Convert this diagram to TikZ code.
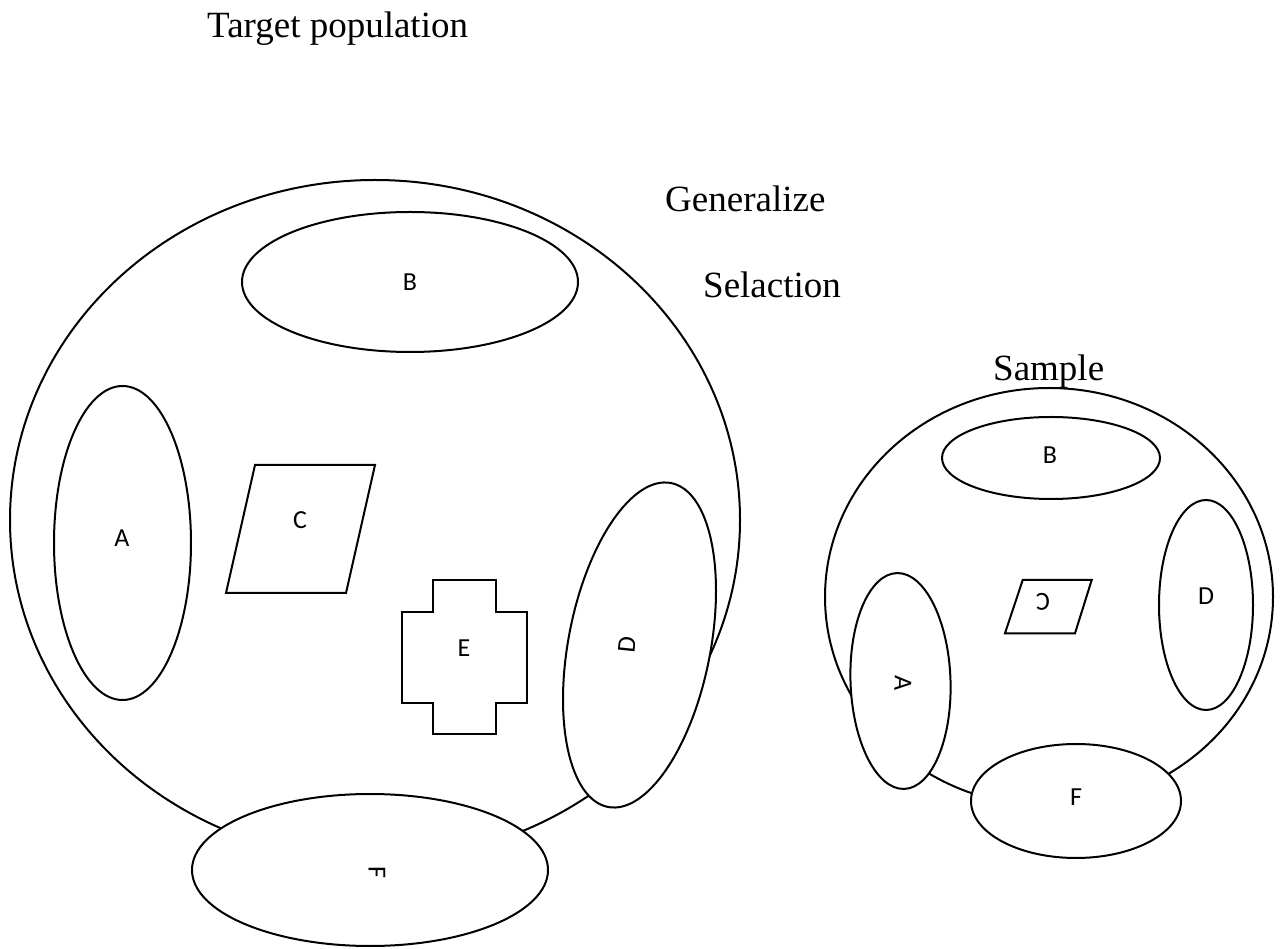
\documentclass[tikz,border=0pt]{standalone}
\usepackage{fontspec}
\setmainfont{Liberation Serif}
\newfontfamily\labfont{Carlito}
\begin{document}
\begin{tikzpicture}[x=1pt,y=1pt,
  shp/.style={draw=black,line width=2pt,fill=white},
  lab/.style={inner sep=0pt,font=\labfont\fontsize{26}{28}\selectfont},
  ttl/.style={inner sep=0pt,anchor=base west,font=\fontsize{37}{40}\selectfont}]
\useasboundingbox (0,0) rectangle (1282,948);
\fill[white] (0,0) rectangle (1282,948);
% texts
\node[ttl] (tp) at (207,910) {Target population};
\node[ttl] (gen) at (665,736) {Generalize};
\node[ttl] (sel) at (703,650) {Selaction};
\node[ttl] (smp) at (993,567) {Sample};
% big population
\draw[shp] (375,428) ellipse [x radius=365, y radius=340];
\draw[shp] (410,666) ellipse [x radius=168, y radius=70];
\node[lab] (bB) at (410,666) {B};
\draw[shp] (122.5,405) ellipse [x radius=68.5, y radius=157];
\node[lab] (bA) at (122,410) {A};
\draw[shp] (255,483) -- (375,483) -- (346,355) -- (226,355) -- cycle;
\node[lab] (bC) at (300,428) {C};
\draw[shp] (433,368) -- (496,368) -- (496,336.3) -- (526.7,336.3) -- (526.7,245) -- (496,245) -- (496,214) -- (433,214) -- (433,245) -- (401.7,245) -- (401.7,336.3) -- (433,336.3) -- cycle;
\node[lab] (bE) at (464,300) {E};
\draw[shp,rotate around={79:(639.5,303)}] (639.5,303) ellipse [x radius=165, y radius=71];
\node[lab,rotate=84] (bD) at (627,303) {D};
\draw[shp] (370,78) ellipse [x radius=178, y radius=76];
\node[lab,rotate=-90] (bF) at (377,76) {F};
% sample
\draw[shp] (1049,351) ellipse [x radius=224, y radius=209];
\draw[shp] (1051,490) ellipse [x radius=109, y radius=41];
\node[lab] (sB) at (1050,493) {B};
\draw[shp] (1022.7,368) -- (1091.7,368) -- (1075,314.7) -- (1005,314.7) -- cycle;
\node[lab,rotate=180] (sC) at (1043,346) {C};
\draw[shp] (1206,343) ellipse [x radius=47, y radius=105];
\node[lab] (sD) at (1206,352) {D};
\draw[shp,rotate around={2:(900.5,267)}] (900.5,267) ellipse [x radius=50, y radius=108];
\node[lab,rotate=-92] (sA) at (903,265) {A};
\draw[shp] (1076,147) ellipse [x radius=105, y radius=57];
\node[lab] (sF) at (1076,151) {F};
\end{tikzpicture}
\end{document}
